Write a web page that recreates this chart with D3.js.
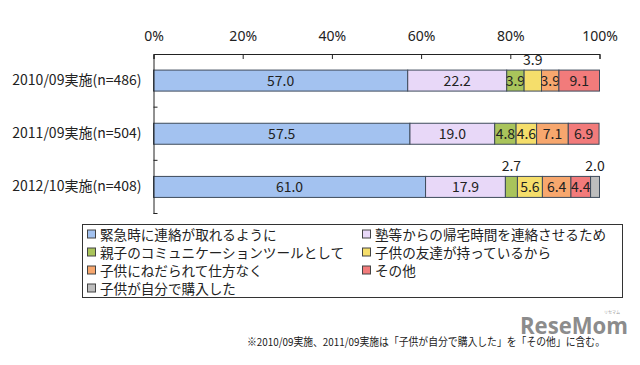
<!DOCTYPE html>
<html><head><meta charset="utf-8">
<script src="https://cdn.jsdelivr.net/npm/d3@7"></script>
<style>
body{margin:0;background:#fff;}
text{font-family:"Noto Sans CJK JP","Noto Sans",sans-serif;fill:#222;}
</style></head>
<body><svg id="c" width="640" height="365"></svg>
<script>
const categories = ["2010/09実施(n=486)", "2011/09実施(n=504)", "2012/10実施(n=408)"];
const seriesNames = ["緊急時に連絡が取れるように", "塾等からの帰宅時間を連絡させるため", "親子のコミュニケーションツールとして", "子供の友達が持っているから", "子供にねだられて仕方なく", "その他", "子供が自分で購入した"];
const values2010 = [57.0, 22.2, 3.9, 3.9, 3.9, 9.1, 0];
const values2011 = [57.5, 19.0, 4.8, 4.6, 7.1, 6.9, 0];
const values2012 = [61.0, 17.9, 2.7, 5.6, 6.4, 4.4, 2.0];
const colors = ["#A3C2F0", "#E8D8F8", "#A9C45B", "#F5DE6B", "#F7A76E", "#F27B7B", "#BDBDBD"];
const tickValues = [0, 20, 40, 60, 80, 100];
const outsideLabels = [[0, 3], [2, 2], [2, 6]]; // [category index, series index] labelled above the bar
const footnote = "※2010/09実施、2011/09実施は「子供が自分で購入した」を「その他」に含む。";

const allValues = [values2010, values2011, values2012];
const svg = d3.select("#c");
const x = d3.scaleLinear().domain([0, 100]).range([153.5, 599.5]);
const y = d3.scaleBand().domain(categories).range([54, 213.5]).padding(0);
const barH = 21;

const rows = categories.map((c, i) => {
  const o = {cat: c};
  seriesNames.forEach((s, j) => o[s] = allValues[i][j]);
  return o;
});
const stack = d3.stack().keys(seriesNames)(rows);

const g = svg.append("g");
stack.forEach((layer, j) => {
  layer.forEach((d, i) => {
    const v = allValues[i][j];
    if (!v) return;
    const cy = y(categories[i]) + y.bandwidth() / 2;
    g.append("rect")
      .attr("x", x(d[0])).attr("y", cy - barH / 2)
      .attr("width", x(d[1]) - x(d[0])).attr("height", barH)
      .attr("fill", colors[j]).attr("stroke", "#3e4b5b").attr("stroke-width", 1);
    const outside = outsideLabels.some(p => p[0] === i && p[1] === j);
    g.append("text")
      .attr("x", (x(d[0]) + x(d[1])) / 2)
      .attr("y", outside ? cy - barH / 2 - 5 : cy + 5)
      .attr("text-anchor", "middle")
      .style("font-size", "14px")
      .text(v.toFixed(1));
  });
});

// top axis
const xAxis = d3.axisTop(x).tickValues(tickValues).tickFormat(d => d + "%")
  .tickSizeInner(-5).tickSizeOuter(-5).tickPadding(13);
const ax = svg.append("g").attr("transform", "translate(0,54)").call(xAxis);
ax.select(".domain").attr("stroke", "#222");
ax.selectAll(".tick line").attr("stroke", "#222");
ax.selectAll("text").style("font-size", "14px").attr("fill", "#222")
  .style("font-family", '"Noto Sans","Noto Sans CJK JP",sans-serif');

// left axis
const yAxis = d3.axisLeft(y).tickSize(0).tickPadding(12);
const ay = svg.append("g").attr("transform", "translate(153.5,0)").call(yAxis);
ay.select(".domain").attr("stroke", "#222");
ay.selectAll("text").style("font-size", "14px").attr("fill", "#222");
const bounds = categories.map(c => y(c) + y.bandwidth());
svg.append("g").selectAll("line").data(bounds).join("line")
  .attr("x1", 153.5).attr("x2", 157.5).attr("y1", d => d).attr("y2", d => d)
  .attr("stroke", "#222");

// legend
const lg = svg.append("g");
lg.append("rect").attr("x", 82.5).attr("y", 224.5).attr("width", 540).attr("height", 73)
  .attr("fill", "#fff").attr("stroke", "#333");
seriesNames.forEach((s, j) => {
  const col = j % 2, row = Math.floor(j / 2);
  const lx = col === 0 ? 87 : 362, ly = 234.5 + row * 18;
  lg.append("rect").attr("x", lx + 0.5).attr("y", ly - 4.5).attr("width", 8).attr("height", 8)
    .attr("fill", colors[j]).attr("stroke", "#444");
  lg.append("text").attr("x", lx + 13).attr("y", ly + 5.5)
    .style("font-size", "13.6px").text(s);
});

// watermark
svg.append("text").attr("x", 520).attr("y", 334)
  .style("font-family", '"Open Sans","Noto Sans",sans-serif').style("font-weight", "bold")
  .style("font-size", "23px").style("fill", "#8c8c8c").attr("textLength", 108)
  .attr("lengthAdjust", "spacingAndGlyphs").text("ReseMom");
svg.append("text").attr("x", 612).attr("y", 314).attr("text-anchor", "middle")
  .style("font-size", "4px").style("fill", "#999").text("リセマム");

// footnote
svg.append("text").attr("x", 247).attr("y", 346)
  .attr("textLength", 358).attr("lengthAdjust", "spacingAndGlyphs")
  .style("font-size", "11px").text(footnote);
</script></body></html>
